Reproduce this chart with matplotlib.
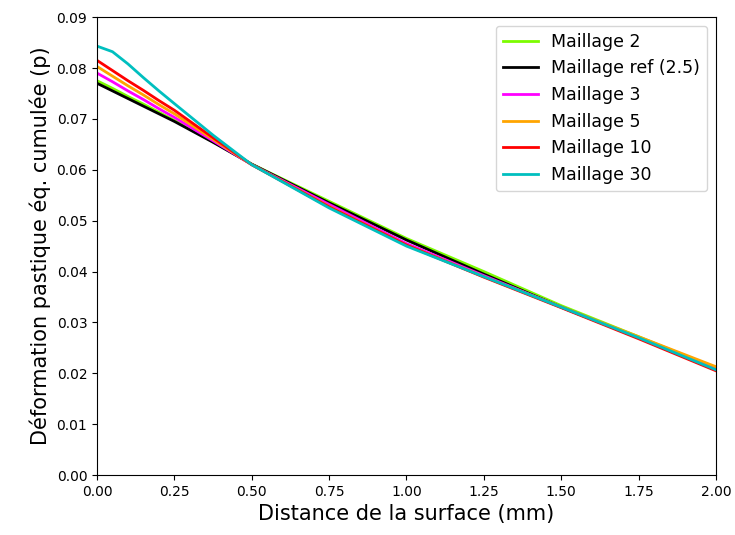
import numpy as np
import matplotlib.pyplot as plt

# Distance from the surface (mm)
x = [0.0, 0.05, 0.1, 0.15, 0.2, 0.25, 0.375, 0.5, 0.75, 1.0, 1.25, 1.5, 1.75, 2.0]

# Cumulated equivalent plastic strain for each mesh
m2 = [0.0775, 0.0760, 0.0744, 0.0729, 0.0713, 0.0697, 0.0655, 0.0611, 0.0538, 0.0465, 0.0400, 0.0333, 0.0272, 0.0210]
m_ref = [0.0770, 0.0755, 0.0740, 0.0725, 0.0710, 0.0695, 0.0654, 0.0611, 0.0535, 0.0462, 0.0395, 0.0330, 0.0270, 0.0207]
m3 = [0.0790, 0.0773, 0.0755, 0.0738, 0.0720, 0.0703, 0.0657, 0.0610, 0.0532, 0.0455, 0.0392, 0.0330, 0.0270, 0.0208]
m5 = [0.0803, 0.0784, 0.0765, 0.0747, 0.0728, 0.0710, 0.0660, 0.0610, 0.0528, 0.0452, 0.0390, 0.0330, 0.0272, 0.0213]
m10 = [0.0815, 0.0795, 0.0775, 0.0756, 0.0736, 0.0717, 0.0663, 0.0610, 0.0527, 0.0452, 0.0389, 0.0329, 0.0268, 0.0205]
m30 = [0.0843, 0.0832, 0.0808, 0.0781, 0.0755, 0.0730, 0.0668, 0.0610, 0.0525, 0.0450, 0.0390, 0.0330, 0.0270, 0.0207]

series = [m2, m_ref, m3, m5, m10, m30]
labels = ["Maillage 2", "Maillage ref (2.5)", "Maillage 3", "Maillage 5", "Maillage 10", "Maillage 30"]
colors = ["lawngreen", "black", "magenta", "orange", "red", "c"]

fig, ax = plt.subplots(figsize=(7.35, 5.35), dpi=100)
plt.subplots_adjust(left=0.132, right=0.974, top=0.968, bottom=0.112)

for y, lab, col in zip(series, labels, colors):
    ax.plot(x, y, color=col, linewidth=2, label=lab)

ax.set_xlim(0, 2)
ax.set_ylim(0, 0.09)
ax.set_xticks(np.arange(0, 2.01, 0.25))
ax.set_yticks(np.arange(0, 0.091, 0.01))
ax.set_xlabel("Distance de la surface (mm)", fontsize=15)
ax.set_ylabel("Déformation pastique éq. cumulée (p)", fontsize=15)
ax.legend(loc="upper right", fontsize=12.5)

fig.savefig("out.png")
